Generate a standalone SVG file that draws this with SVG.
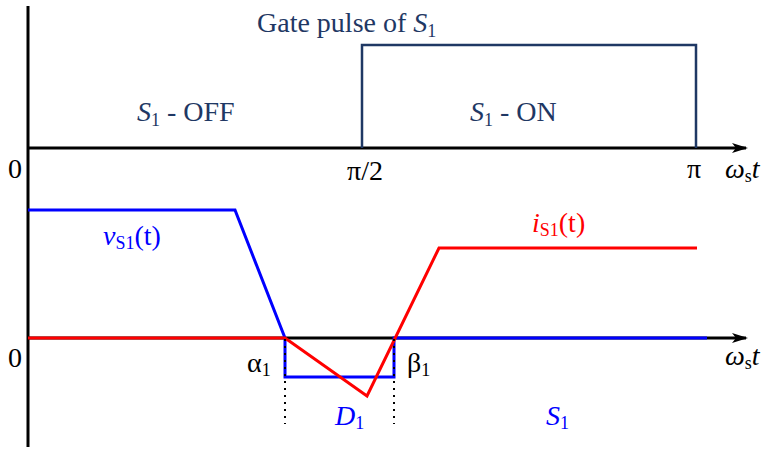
<svg xmlns="http://www.w3.org/2000/svg" width="768" height="459" viewBox="0 0 768 459">
<defs>
<style>
.ax{stroke:#000;stroke-width:3;fill:none}
.gate{stroke:#1f3864;stroke-width:2.5;fill:none}
.bl{stroke:#0000ff;stroke-width:3;fill:none;stroke-linejoin:miter}
.rd{stroke:#ff0000;stroke-width:3;fill:none;stroke-linejoin:miter}
.dot{stroke:#000;stroke-width:2;stroke-dasharray:2 5;fill:none}
text{font-family:"Liberation Serif","Times New Roman",serif;font-size:28px}
.k{fill:#000}.n{fill:#1f3864}.b{fill:#0000ff}.r{fill:#ff0000}
.i{font-style:italic}
.sub{font-size:18px}
</style>
<marker id="ar" markerWidth="16" markerHeight="12" refX="14" refY="6" orient="auto" markerUnits="userSpaceOnUse">
<path d="M0,1 L16,6 L0,11 L4,6 Z" fill="#000"/>
</marker>
</defs>
<rect width="768" height="459" fill="#fff"/>

<g id="axes">
<line class="ax" x1="28" y1="6" x2="28" y2="447"/>
<line class="ax" x1="28" y1="148" x2="746" y2="148" marker-end="url(#ar)"/>
<line class="ax" x1="28" y1="338" x2="746" y2="338" marker-end="url(#ar)"/>
</g>

<g id="gate-pulse">
<polyline class="gate" points="362,148 362,45 696,45 696,148"/>
</g>

<g id="v-s1">
<polyline class="bl" points="28,210 235,210 285,338 285,377 394,377 394,338 707,338"/>
</g>

<g id="i-s1">
<polyline class="rd" points="28,338 285,338 367,396 439,248 697,248"/>
</g>

<g id="markers">
<line class="dot" x1="285" y1="339" x2="285" y2="424"/>
<line class="dot" x1="394" y1="339" x2="394" y2="424"/>
</g>

<g id="labels">
<text class="n" x="257" y="32">Gate pulse of <tspan class="i">S</tspan><tspan class="sub" dy="5">1</tspan></text>
<text class="n" x="137" y="121"><tspan class="i">S</tspan><tspan class="sub" dy="5">1</tspan><tspan dy="-5"> - OFF</tspan></text>
<text class="n" x="470" y="121"><tspan class="i">S</tspan><tspan class="sub" dy="5">1</tspan><tspan dy="-5"> - ON</tspan></text>
<text class="k" x="8" y="178">0</text>
<text class="k" x="347" y="180">π/2</text>
<text class="k" x="687" y="178">π</text>
<text class="k" x="725" y="178"><tspan class="i">ω</tspan><tspan class="sub" dy="4">s</tspan><tspan class="i" dy="-4">t</tspan></text>
<text class="b" x="103" y="245"><tspan class="i">v</tspan><tspan class="sub" dy="4">S1</tspan><tspan dy="-4">(t)</tspan></text>
<text class="r" x="532" y="232"><tspan class="i">i</tspan><tspan class="sub" dy="4">S1</tspan><tspan dy="-4">(t)</tspan></text>
<text class="k" x="8" y="367">0</text>
<text class="k" x="247" y="372">α<tspan class="sub" dy="4">1</tspan></text>
<text class="k" x="407" y="372">β<tspan class="sub" dy="4">1</tspan></text>
<text class="k" x="725" y="365"><tspan class="i">ω</tspan><tspan class="sub" dy="4">s</tspan><tspan class="i" dy="-4">t</tspan></text>
<text class="b" x="335" y="425"><tspan class="i">D</tspan><tspan class="sub" dy="4">1</tspan></text>
<text class="b" x="546" y="425"><tspan class="i">S</tspan><tspan class="sub" dy="4">1</tspan></text>
</g>
</svg>
